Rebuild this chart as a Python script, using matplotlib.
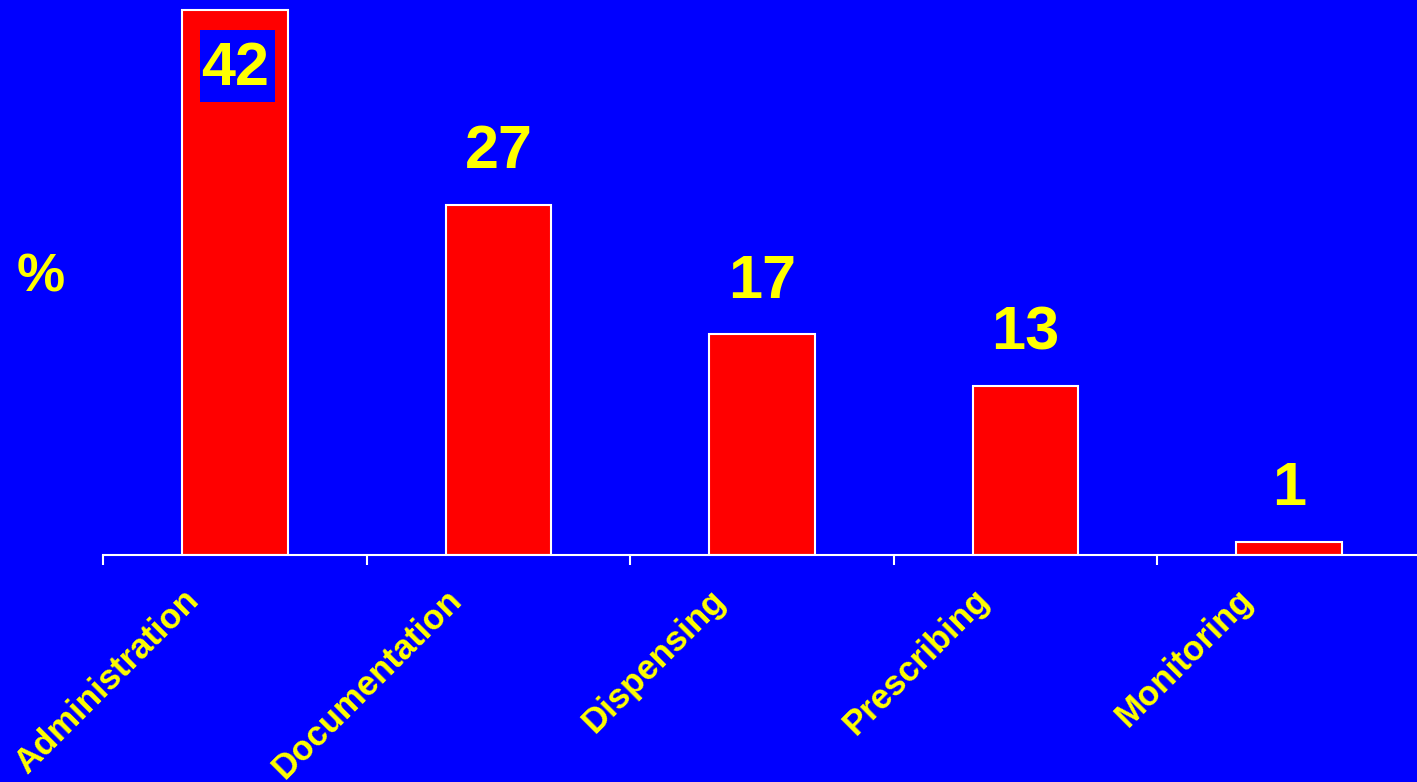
import matplotlib
matplotlib.use("Agg")
import matplotlib.pyplot as plt
import matplotlib.transforms as mtransforms
from matplotlib.path import Path
import numpy as np

categories = ["Administration", "Documentation", "Dispensing", "Prescribing", "Monitoring"]
percent = [42, 27, 17, 13, 1]

BLUE = "#0000FF"
RED = "#FF0000"
YELLOW = "#FFFF00"

plt.rcParams["font.family"] = ["Liberation Sans", "DejaVu Sans"]
plt.rcParams["font.weight"] = "bold"


def label_box(x0, y0, width, height, mutation_size):
    # rectangle a little wider than the text and clearly taller
    cx = x0 + width / 2 + 0.04 * mutation_size
    cy = y0 + height / 2 + 0.05 * mutation_size
    hw = width / 2 + 0.06 * mutation_size
    hh = 0.59 * mutation_size
    return Path([(cx - hw, cy - hh), (cx + hw, cy - hh), (cx + hw, cy + hh),
                 (cx - hw, cy + hh), (cx - hw, cy - hh)], closed=True)


fig = plt.figure(figsize=(14.17, 7.82), dpi=100, facecolor=BLUE)
ax = fig.add_axes([103 / 1417, 227 / 782, 1318 / 1417, 555 / 782])
ax.set_facecolor(BLUE)

x = np.arange(len(categories))
ax.bar(x, percent, width=0.4, color=RED, edgecolor="white", linewidth=1.5, zorder=3)

ax.set_xlim(-0.5, len(categories) - 0.5)
ax.set_ylim(0, 42.76)

# value labels: above the bar, or inside on a blue patch when there's no room
for xi, v in zip(x, percent):
    if v > 40:
        ax.annotate(str(v), (xi, v), xytext=(0, -54), textcoords="offset points",
                    ha="center", va="baseline", fontsize=44, fontweight="bold",
                    color=YELLOW, zorder=4,
                    bbox=dict(boxstyle=label_box, fc=BLUE, ec="none"))
    else:
        ax.annotate(str(v), (xi, v), xytext=(0, 26.5), textcoords="offset points",
                    ha="center", va="baseline", fontsize=44, fontweight="bold",
                    color=YELLOW, zorder=4)

# ticks sit between categories, labels are drawn separately
ax.set_xticks(np.arange(-0.5, len(categories) + 0.5, 1.0))
ax.set_xticklabels([])
ax.tick_params(axis="x", direction="out", length=7.5, width=1.5, colors="white")
ax.set_yticks([])
for side in ("left", "right", "top"):
    ax.spines[side].set_visible(False)
ax.spines["bottom"].set_color("white")
ax.spines["bottom"].set_linewidth(1.5)
ax.spines["bottom"].set_zorder(5)

shift = mtransforms.ScaledTranslation(-53 / 100, -28 / 100, fig.dpi_scale_trans)
for xi, name in zip(x, categories):
    ax.text(xi, 0, name, transform=ax.get_xaxis_transform() + shift,
            rotation=45, rotation_mode="anchor", ha="right", va="top",
            fontsize=25, fontweight="bold", color=YELLOW)

fig.text(41 / 1417, 1 - 278 / 782, "%", ha="center", va="center",
         fontsize=39, fontweight="bold", color=YELLOW)

fig.savefig("out.png", dpi=100, facecolor=BLUE)
